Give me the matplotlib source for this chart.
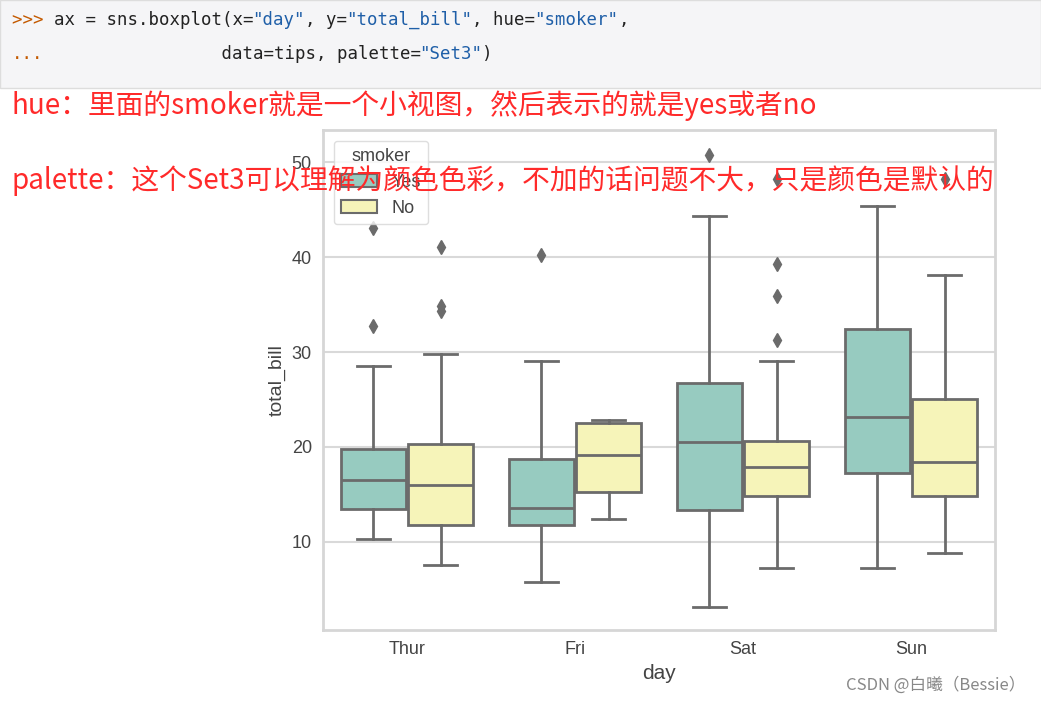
import matplotlib.pyplot as plt
from matplotlib.patches import Rectangle

plt.rcParams['font.family'] = ['Liberation Sans', 'Noto Sans CJK SC']

days = ['Thur', 'Fri', 'Sat', 'Sun']
smoker = ['Yes', 'No']
# (low whisker, q1, median, q3, high whisker, outliers)
yes_stats = [
    (10.3, 13.5, 16.5, 19.8, 28.5, [32.7, 43.1]),
    (5.8, 11.8, 13.6, 18.7, 29.0, [40.2]),
    (3.1, 13.4, 20.5, 26.7, 44.3, [50.8]),
    (7.2, 17.2, 23.2, 32.4, 45.4, []),
]
no_stats = [
    (7.5, 11.8, 16.0, 20.3, 29.8, [34.3, 34.8, 41.1]),
    (12.4, 15.2, 19.1, 22.5, 22.8, []),
    (7.2, 14.8, 17.9, 20.6, 29.0, [31.3, 35.9, 39.3, 48.2]),
    (8.8, 14.8, 18.4, 25.1, 38.1, [48.2]),
]
colors = ['#97cbc0', '#f6f4b9']
edge = '#6b6b6b'

fig = plt.figure(figsize=(10.41, 7.04), dpi=100)

# top code band
fig.patches.append(Rectangle((0, 1 - 88 / 704), 1, 88 / 704, transform=fig.transFigure,
                             facecolor='#f5f5f7', edgecolor='#dddddd', zorder=0))

def code_line(y, parts):
    x = 12
    for txt, col in parts:
        fig.text(x / 1041, y, txt, family='DejaVu Sans Mono', fontsize=12.5, color=col, va='center')
        x += len(txt) * 10.45

code_line(1 - 20 / 704, [('>>> ', '#c45a00'), ('ax = sns.boxplot(x=', '#222222'), ('"day"', '#1f5fa8'),
                         (', y=', '#222222'), ('"total_bill"', '#1f5fa8'), (', hue=', '#222222'),
                         ('"smoker"', '#1f5fa8'), (',', '#222222')])
code_line(1 - 54 / 704, [('...', '#c45a00'), ('                 data=tips, palette=', '#222222'),
                         ('"Set3"', '#1f5fa8'), (')', '#222222')])

ax = fig.add_axes([323 / 1041, 74 / 704, 672 / 1041, 500 / 704])

for k, (stats, off) in enumerate([(yes_stats, -0.2), (no_stats, 0.2)]):
    bxp = []
    for lo, q1, med, q3, hi, fl in stats:
        bxp.append(dict(whislo=lo, q1=q1, med=med, q3=q3, whishi=hi, fliers=fl))
    ax.bxp(bxp, positions=[i + off for i in range(len(days))], widths=0.39,
           patch_artist=True, manage_ticks=False,
           boxprops=dict(facecolor=colors[k], edgecolor=edge, linewidth=2),
           medianprops=dict(color=edge, linewidth=2),
           whiskerprops=dict(color=edge, linewidth=2),
           capprops=dict(color=edge, linewidth=2),
           flierprops=dict(marker='d', markerfacecolor=edge, markeredgecolor=edge, markersize=7))

ax.set_xlim(-0.5, 3.5)
ax.set_ylim(0.7, 53.4)
ax.set_xticks(range(len(days)))
ax.set_xticklabels(days)
ax.set_yticks([10, 20, 30, 40, 50])
ax.yaxis.grid(True, color='#d9d9d9', linewidth=1.5)
ax.set_axisbelow(True)
for s in ax.spines.values():
    s.set_color('#d6d6d6')
    s.set_linewidth(2)
ax.tick_params(colors='#444444', labelsize=13, length=0, pad=8)
ax.set_xlabel('day', fontsize=15, color='#444444')
ax.set_ylabel('total_bill', fontsize=14, color='#444444')

handles = [Rectangle((0, 0), 1, 1, facecolor=c, edgecolor=edge, linewidth=1.5) for c in colors]
leg = ax.legend(handles, smoker, title='smoker', loc='upper left', fontsize=13, title_fontsize=13,
                frameon=True, edgecolor='#d6d6d6', borderaxespad=0.6)
leg.get_title().set_color('#444444')
for t in leg.get_texts():
    t.set_color('#444444')

red = '#ff2a2a'
fig.text(12 / 1041, 1 - 106 / 704, 'hue：里面的smoker就是一个小视图，然后表示的就是yes或者no',
         fontsize=20, color=red, va='center', family=['Noto Sans CJK SC', 'DejaVu Sans'])
fig.text(12 / 1041, 1 - 181 / 704, 'palette：这个Set3可以理解为颜色色彩，不加的话问题不大，只是颜色是默认的',
         fontsize=20, color=red, va='center', family=['Noto Sans CJK SC', 'DejaVu Sans'])
fig.text(1025 / 1041, 1 - 685 / 704, 'CSDN @白曦（Bessie）', fontsize=12, color='#888888',
         ha='right', va='center', family=['Noto Sans CJK SC', 'DejaVu Sans'])

fig.savefig('out.png', dpi=100)
